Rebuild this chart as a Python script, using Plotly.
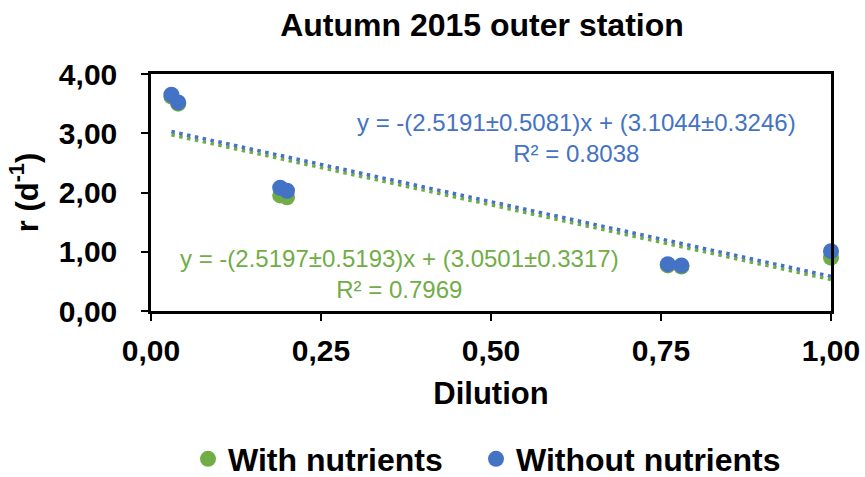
import plotly.graph_objects as go

# Dilution series and measured growth rates r (d^-1)
dilution = [0.03, 0.04, 0.19, 0.20, 0.76, 0.78, 1.00]
r_with = [3.62, 3.50, 1.95, 1.92, 0.77, 0.75, 0.90]
r_without = [3.65, 3.52, 2.08, 2.03, 0.79, 0.77, 1.01]

# Linear fits (slope, intercept) as reported in the equations
fit_with = (-2.5197, 3.0501)
fit_without = (-2.5191, 3.1044)
eq_with = ["y = -(2.5197±0.5193)x + (3.0501±0.3317)", "R² = 0.7969"]
eq_without = ["y = -(2.5191±0.5081)x + (3.1044±0.3246)", "R² = 0.8038"]

GREEN = "#70AD47"
BLUE = "#4472C4"
FONT = "Liberation Sans, Arial, sans-serif"

x_fit = [min(dilution), max(dilution)]

fig = go.Figure()

fig.add_trace(go.Scatter(
    x=x_fit, y=[fit_with[0] * v + fit_with[1] for v in x_fit],
    mode="lines", line=dict(color=GREEN, width=3.5, dash="3.5px,4.5px"),
    showlegend=False, hoverinfo="skip"))
fig.add_trace(go.Scatter(
    x=x_fit, y=[fit_without[0] * v + fit_without[1] for v in x_fit],
    mode="lines", line=dict(color=BLUE, width=3.5, dash="3.5px,4.5px"),
    showlegend=False, hoverinfo="skip"))

fig.add_trace(go.Scatter(
    x=dilution, y=r_with, mode="markers", name="With nutrients",
    marker=dict(color=GREEN, size=16), cliponaxis=False, legend="legend"))
fig.add_trace(go.Scatter(
    x=dilution, y=r_without, mode="markers", name="Without nutrients",
    marker=dict(color=BLUE, size=16), cliponaxis=False, legend="legend2"))

fig.add_annotation(x=0.626, y=2.92, xref="x", yref="y",
                   text="<br>".join(eq_without), showarrow=False,
                   font=dict(family=FONT, size=24, color=BLUE), align="center")
fig.add_annotation(x=0.365, y=0.62, xref="x", yref="y",
                   text="<br>".join(eq_with), showarrow=False,
                   font=dict(family=FONT, size=24, color=GREEN), align="center")

tick_font = dict(family=FONT, size=30, color="black", weight="bold")
title_font = dict(family=FONT, size=31, color="black", weight="bold")

axis_common = dict(
    showline=True, linecolor="black", linewidth=2.5, mirror=True,
    ticks="outside", ticklen=7, tickwidth=2, tickcolor="black",
    showgrid=False, zeroline=False, tickfont=tick_font,
)

fig.update_xaxes(range=[0, 1], tickvals=[0, 0.25, 0.5, 0.75, 1.0],
                 tickformat=".2f", ticklabelstandoff=4,
                 title=dict(text="Dilution", font=title_font, standoff=17),
                 **axis_common)
fig.update_yaxes(range=[0, 4], tickvals=[0, 1, 2, 3, 4], tickformat=".2f",
                 ticklabelstandoff=18,
                 title=dict(text="r (d<sup>-1</sup>)", font=title_font,
                            standoff=12),
                 **axis_common)

legend_style = dict(
    orientation="h", xref="container", yref="container",
    y=18 / 477, yanchor="middle", xanchor="left",
    font=dict(family=FONT, size=32, color="black", weight="bold"),
    itemwidth=30, bgcolor="rgba(0,0,0,0)",
)

fig.update_layout(
    width=865, height=477,
    separators=",.",
    paper_bgcolor="white", plot_bgcolor="white",
    margin=dict(l=151, r=34, t=74, b=166, autoexpand=False),
    font=dict(family=FONT, color="black"),
    title=dict(text="Autumn 2015 outer station", x=482 / 865, xanchor="center",
               y=1 - 25 / 477, yanchor="middle",
               font=dict(family=FONT, size=32, color="black", weight="bold")),
    legend=dict(x=188 / 865, **legend_style),
    legend2=dict(x=476 / 865, **legend_style),
)

fig.write_html("out.html")
